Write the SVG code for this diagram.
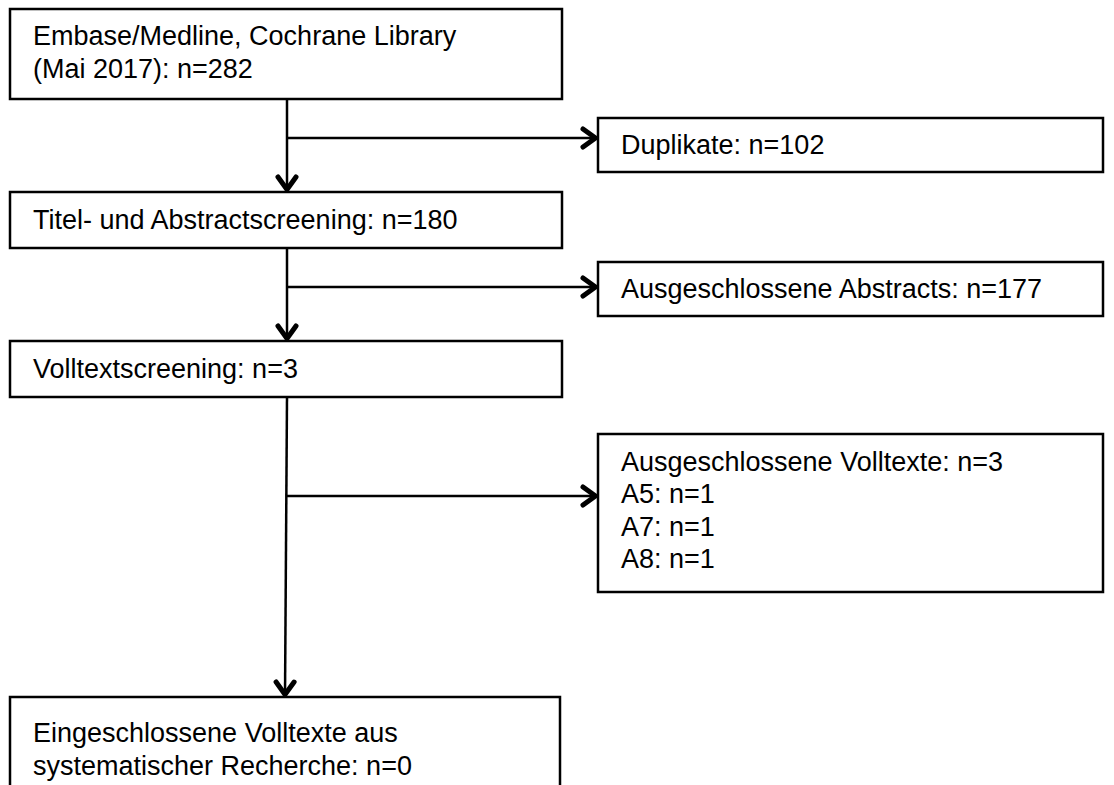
<svg xmlns="http://www.w3.org/2000/svg" width="1114" height="785" viewBox="0 0 1114 785">
<style>
.box{fill:#fff;stroke:#000;stroke-width:2.5}
.t{font-family:"Liberation Sans",Arial,sans-serif;font-size:27px;fill:#000}
.c{fill:none;stroke:#000;stroke-width:2.5}
</style>
<defs>
<marker id="ah" markerUnits="userSpaceOnUse" markerWidth="26" markerHeight="26" viewBox="0 0 26 26" refX="21" refY="13" orient="auto" overflow="visible">
<path d="M6,4 L18.5,13 L6,22" fill="none" stroke="#000" stroke-width="5" stroke-linejoin="round" stroke-linecap="round"/>
</marker>
</defs>
<rect width="1114" height="785" fill="#fff"/>
<g id="connectors">
<line class="c" x1="287" y1="99" x2="287" y2="192" marker-end="url(#ah)"/>
<line class="c" x1="287" y1="138" x2="598" y2="138" marker-end="url(#ah)"/>
<line class="c" x1="287" y1="248" x2="287" y2="341" marker-end="url(#ah)"/>
<line class="c" x1="287" y1="287" x2="598" y2="287" marker-end="url(#ah)"/>
<line class="c" x1="287" y1="397" x2="285" y2="697" marker-end="url(#ah)"/>
<line class="c" x1="286" y1="496" x2="598" y2="496" marker-end="url(#ah)"/>
</g>
<g id="n1">
<rect class="box" x="10" y="9" width="552" height="90"/>
<text class="t" x="33" y="45">Embase/Medline, Cochrane Library</text>
<text class="t" x="33" y="78">(Mai 2017): n=282</text>
</g>
<g id="n2">
<rect class="box" x="598" y="118" width="505" height="54"/>
<text class="t" x="621" y="154">Duplikate: n=102</text>
</g>
<g id="n3">
<rect class="box" x="10" y="192" width="552" height="56"/>
<text class="t" x="33" y="229">Titel- und Abstractscreening: n=180</text>
</g>
<g id="n4">
<rect class="box" x="598" y="262" width="505" height="54"/>
<text class="t" x="621" y="298">Ausgeschlossene Abstracts: n=177</text>
</g>
<g id="n5">
<rect class="box" x="10" y="341" width="552" height="56"/>
<text class="t" x="33" y="378">Volltextscreening: n=3</text>
</g>
<g id="n6">
<rect class="box" x="598" y="434" width="505" height="158"/>
<text class="t" x="621" y="471">Ausgeschlossene Volltexte: n=3</text>
<text class="t" x="621" y="503">A5: n=1</text>
<text class="t" x="621" y="536">A7: n=1</text>
<text class="t" x="621" y="568">A8: n=1</text>
</g>
<g id="n7">
<rect class="box" x="10" y="697" width="550" height="110"/>
<text class="t" x="33" y="742">Eingeschlossene Volltexte aus</text>
<text class="t" x="33" y="775">systematischer Recherche: n=0</text>
</g>
</svg>
